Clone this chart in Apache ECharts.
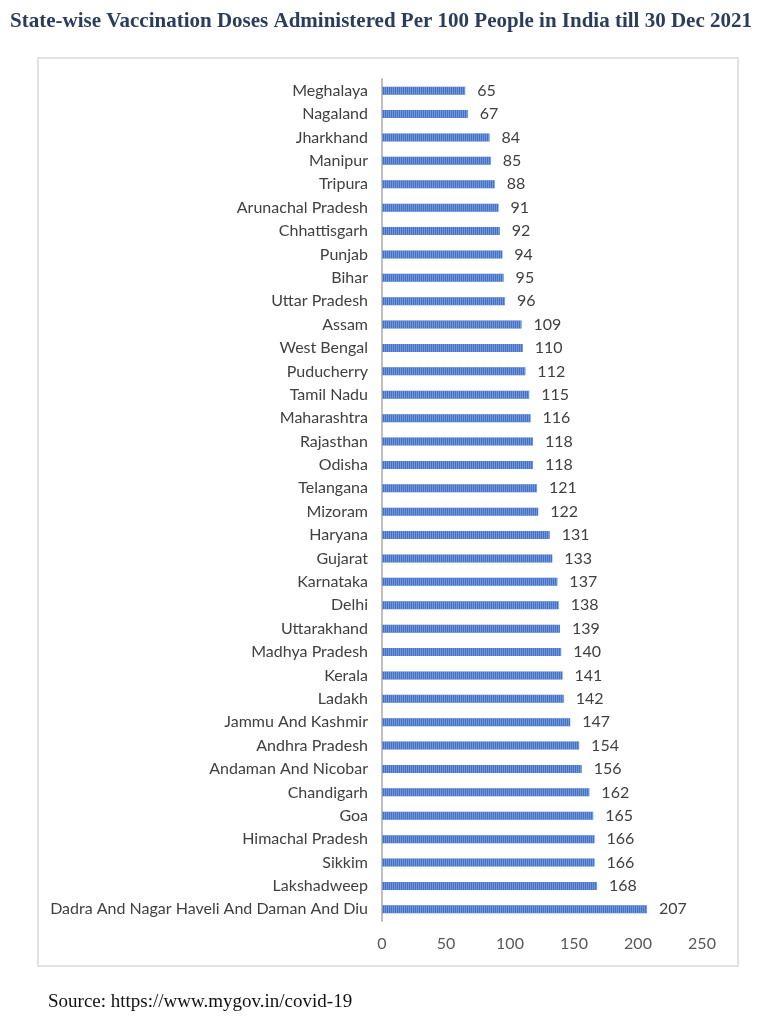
<!DOCTYPE html>
<html><head><meta charset="utf-8">
<script src="https://cdn.jsdelivr.net/npm/echarts@6/dist/echarts.min.js"></script>
<style>html,body{margin:0;padding:0;background:#fff}#c{width:762px;height:1024px}</style>
</head><body><div id="c"></div>
<script>
const states = ["Meghalaya","Nagaland","Jharkhand","Manipur","Tripura","Arunachal Pradesh","Chhattisgarh","Punjab","Bihar","Uttar Pradesh","Assam","West Bengal","Puducherry","Tamil Nadu","Maharashtra","Rajasthan","Odisha","Telangana","Mizoram","Haryana","Gujarat","Karnataka","Delhi","Uttarakhand","Madhya Pradesh","Kerala","Ladakh","Jammu And Kashmir","Andhra Pradesh","Andaman And Nicobar","Chandigarh","Goa","Himachal Pradesh","Sikkim","Lakshadweep","Dadra And Nagar Haveli And Daman And Diu"];
const doses = [65,67,84,85,88,91,92,94,95,96,109,110,112,115,116,118,118,121,122,131,133,137,138,139,140,141,142,147,154,156,162,165,166,166,168,207];
const xTicks = [0,50,100,150,200,250];
const titleText = "State-wise Vaccination Doses Administered Per 100 People in India till 30 Dec 2021";
const sourceText = "Source: https://www.mygov.in/covid-19";

const chart = echarts.init(document.getElementById('c'));
chart.setOption({
  animation:false,
  backgroundColor:'#fff',
  title:{text:titleText,left:'center',top:6,textStyle:{fontFamily:'Liberation Serif',fontSize:21,fontWeight:'bold',color:'#2b3d5e'}},
  graphic:[
    {type:'rect',shape:{x:38,y:58,width:700,height:908},style:{fill:'none',stroke:'#d9d9d9',lineWidth:1.5},z:-1},
    {type:'text',left:48,top:993,style:{text:sourceText,font:'19px "Liberation Serif"',fill:'#111'}}
  ],
  grid:{left:382,right:60,top:79,bottom:103,containLabel:false},
  xAxis:{type:'value',min:xTicks[0],max:xTicks[xTicks.length-1],interval:50,
    axisLine:{show:false},axisTick:{show:false},splitLine:{show:false},
    axisLabel:{color:'#595959',fontSize:16,fontFamily:'Lato',margin:15}},
  yAxis:{type:'category',data:states,inverse:true,
    axisLine:{show:true,lineStyle:{color:'#bfbfbf',width:2}},axisTick:{show:false},
    axisLabel:{color:'#404040',fontSize:16,fontFamily:'Lato',margin:14}},
  series:[{type:'bar',data:doses,barWidth:8,
    itemStyle:{color:'#4472c4',decal:{symbol:'rect',dashArrayX:[1,1],dashArrayY:[8,0],color:'rgba(160,185,235,0.5)',rotation:0}},
    label:{show:true,position:'right',distance:12,color:'#404040',fontSize:16,fontFamily:'Lato'}}]
});
</script></body></html>
